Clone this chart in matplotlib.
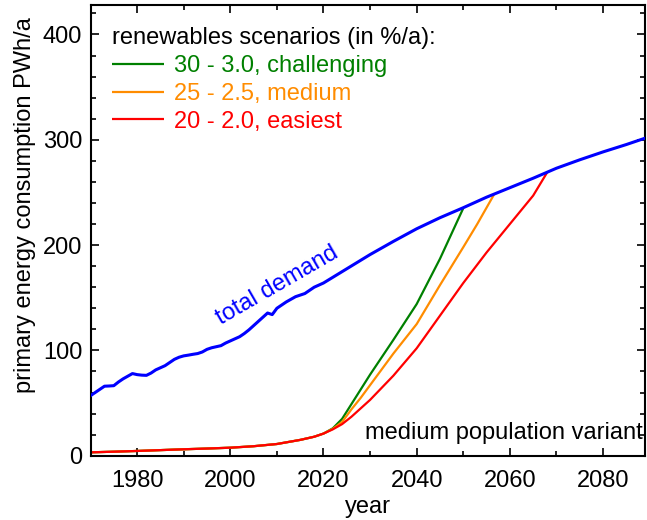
import matplotlib
matplotlib.use("Agg")
import matplotlib.pyplot as plt
from matplotlib.ticker import MultipleLocator

plt.rcParams['font.family'] = ['Liberation Sans', 'DejaVu Sans']

# ---- data ----
demand_years = [1970, 1971, 1972, 1973, 1974, 1975, 1976, 1977, 1978, 1979,
                1980, 1981, 1982, 1983, 1984, 1985, 1986, 1987, 1988, 1989,
                1990, 1991, 1992, 1993, 1994, 1995, 1996, 1997, 1998, 1999,
                2000, 2001, 2002, 2003, 2004, 2005, 2006, 2007, 2008, 2009,
                2010, 2011, 2012, 2013, 2014, 2015, 2016, 2017, 2018, 2019,
                2020, 2025, 2030, 2035, 2040, 2045, 2050, 2055, 2060, 2065,
                2070, 2075, 2080, 2085, 2089]
demand_values = [57, 60, 63, 66, 66.2, 66.5, 70, 73, 75.5, 78,
                 77, 76.5, 76.3, 78.5, 81.5, 83.5, 85.5, 88.5, 91.5, 93.5,
                 94.8, 95.5, 96.3, 97, 98.5, 101, 102.5, 103.5, 104.5, 107,
                 109, 111, 113, 116, 119.5, 123.5, 127.5, 131.5, 135.5, 134,
                 140, 143, 146, 148.5, 151, 152.5, 154, 157, 160, 162,
                 164, 177.5, 191, 203.5, 215.5, 226, 235.5, 245.5, 254.5, 263.5,
                 273, 281, 288.5, 295.5, 301.5]

common_years = [1970, 1975, 1980, 1985, 1990, 1995, 2000, 2005, 2010, 2015, 2018, 2020]
common_values = [3.2, 3.8, 4.5, 5.3, 6.1, 6.8, 7.6, 9.0, 11.1, 15.0, 18.0, 21.0]

green_years = [2022, 2024, 2026, 2028, 2030, 2035, 2040, 2045, 2050]
green_values = [26, 35, 49, 63, 77, 110, 144, 187, 235]

orange_years = [2022, 2024, 2026, 2028, 2030, 2035, 2040, 2045, 2050, 2053, 2056.6]
orange_values = [25.5, 32, 44, 55, 67, 97, 125, 162, 198, 220, 248]

red_years = [2022, 2024, 2026, 2028, 2030, 2035, 2040, 2045, 2050, 2055, 2060, 2065, 2068]
red_values = [25, 30, 37, 45, 53, 76, 102, 133, 164, 193, 220, 247, 269]

scenario_labels = ["30 - 3.0, challenging", "25 - 2.5, medium", "20 - 2.0, easiest"]
scenario_colors = ["#008000", "#FF8C00", "#FF0000"]

# ---- figure ----
fig = plt.figure(figsize=(6.47, 5.2), dpi=100)
ax = fig.add_axes([90.5 / 647, 1 - 455.7 / 520, (645 - 90.5) / 647, (455.7 - 5) / 520])

scen = [(green_years, green_values), (orange_years, orange_values), (red_years, red_values)]
handles = []
for (yrs, vals), lab, col in zip(scen, scenario_labels, scenario_colors):
    h, = ax.plot(common_years + yrs, common_values + vals, color=col, lw=1.6,
                 label=lab, solid_capstyle='butt')
    handles.append(h)

ax.plot(demand_years, demand_values, color="#0000FF", lw=2.2, zorder=5)

FS = 17
ax.set_xlim(1970, 2089)
ax.set_ylim(0, 428)
ax.xaxis.set_major_locator(MultipleLocator(20))
ax.xaxis.set_minor_locator(MultipleLocator(10))
ax.yaxis.set_major_locator(MultipleLocator(100))
ax.yaxis.set_minor_locator(MultipleLocator(20))
ax.tick_params(which='both', direction='in', top=True, right=True, labelsize=FS,
               width=1.2, colors='black')
ax.tick_params(which='major', length=6)
ax.tick_params(which='minor', length=3.5)
ax.tick_params(axis='x', pad=10)
ax.tick_params(axis='y', pad=6)
for s in ax.spines.values():
    s.set_linewidth(1.5)

ax.set_xlabel("year", fontsize=FS, labelpad=3)
ax.set_ylabel("primary energy consumption PWh/a", fontsize=FS)
ax.yaxis.set_label_coords(-0.098, 0.555)

leg = ax.legend(handles=handles, loc='upper left', bbox_to_anchor=(0.005, 0.993),
                frameon=False, fontsize=FS, title="renewables scenarios (in %/a):",
                title_fontsize=FS, alignment='left', handlelength=2.2,
                handletextpad=0.4, labelspacing=0.25, borderaxespad=0.4)
for t, c in zip(leg.get_texts(), scenario_colors):
    t.set_color(c)

ax.text(2010.1, 161.3, "total demand", color="#0000FF", fontsize=FS, rotation=30,
        ha='center', va='center', rotation_mode='anchor')
ax.text(0.996, 0.05, "medium population variant", transform=ax.transAxes,
        fontsize=FS, ha='right', va='center')

fig.savefig("out.png", dpi=100)
